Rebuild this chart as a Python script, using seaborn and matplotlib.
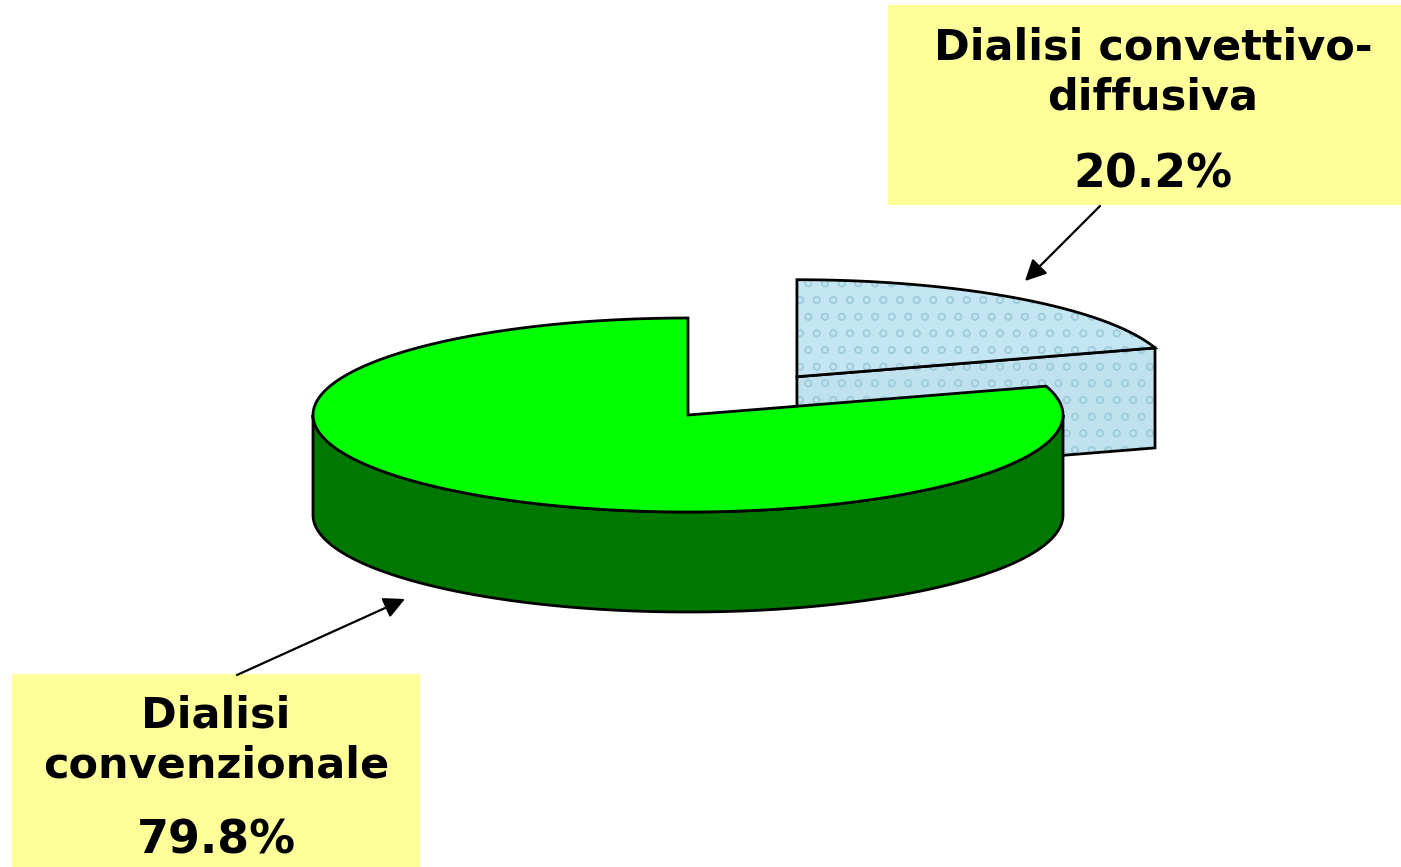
#!/usr/bin/env python
# -*- coding: utf-8 -*-

import numpy as np
import matplotlib.pyplot as plt
import matplotlib.patches as mpatches
import seaborn as sns

sns.set_theme(style="white")
plt.rcParams['font.family'] = ['DejaVu Sans']
plt.rcParams['hatch.linewidth'] = 1.0

# Data
categories = ['Dialisi convenzionale', 'Dialisi convettivo-diffusiva']
label_lines = [['Dialisi', 'convenzionale'], ['Dialisi convettivo-', 'diffusiva']]
shares = [79.8, 20.2]
pct_labels = ['79.8%', '20.2%']
explode = [0.0, 0.49]

# Colours
top_colors = ['#00ff00', '#c4e6f2']
side_colors = ['#007800', '#bfe2ee']
hatch_colors = [None, '#9fcddd']
box_color = '#ffff99'

# Pie geometry (pixels, y goes down)
CX, CY = 688, 415
RX, RY = 375, 97
DEPTH = 100
START = 90


def rim(cx, cy, t0, t1, n=240):
    """Points on the top rim ellipse between two angles (degrees)."""
    t = np.radians(np.linspace(t0, t1, n))
    return cx + RX * np.cos(t), cy - RY * np.sin(t)


def add_poly(ax, xs, ys, face, hatch_col=None, lw=2.0, z=1):
    """Filled polygon with black outline, optional hatch texture."""
    pts = np.column_stack([xs, ys])
    if hatch_col:
        ax.add_patch(mpatches.Polygon(pts, closed=True, facecolor=face,
                                      edgecolor=hatch_col, lw=0, hatch='o', zorder=z))
        ax.add_patch(mpatches.Polygon(pts, closed=True, fill=False,
                                      edgecolor='black', lw=lw, zorder=z))
    else:
        ax.add_patch(mpatches.Polygon(pts, closed=True, facecolor=face,
                                      edgecolor='black', lw=lw, zorder=z))


def draw_slice(ax, t0, t1, e, idx, z):
    """Draws one 3D slice: visible cut face, front wall and top face."""
    mid = np.radians((t0 + t1) / 2)
    cx = CX + e * RX * np.cos(mid)
    cy = CY - e * RY * np.sin(mid)
    hc = hatch_colors[idx]

    # radial cut faces facing the viewer
    for ang, sgn in ((t0, -90), (t1, 90)):
        if np.sin(np.radians(ang + sgn)) < -1e-6:
            px, py = rim(cx, cy, ang, ang, 1)
            xs = [cx, px[0], px[0], cx]
            ys = [cy, py[0], py[0] + DEPTH, cy + DEPTH]
            add_poly(ax, xs, ys, side_colors[idx], hc, z=z)

    # outer wall, front half only
    for k in (0, 360):
        lo, hi = max(t0, 180 + k), min(t1, 360 + k)
        if lo < hi:
            tx, ty = rim(cx, cy, lo, hi)
            xs = np.concatenate([tx, tx[::-1]])
            ys = np.concatenate([ty, ty[::-1] + DEPTH])
            add_poly(ax, xs, ys, side_colors[idx], hc, z=z)

    # top face
    tx, ty = rim(cx, cy, t0, t1)
    add_poly(ax, np.concatenate([[cx], tx]), np.concatenate([[cy], ty]),
             top_colors[idx], hc, z=z + 0.5)


fig = plt.figure(figsize=(14.01, 8.67), dpi=100)
ax = fig.add_axes([0, 0, 1, 1])
ax.set_xlim(0, 1401)
ax.set_ylim(867, 0)
ax.axis('off')

# slice angles
total = sum(shares)
angles = []
start = START
for s in shares:
    sweep = s / total * 360
    angles.append((start, start + sweep))
    start += sweep

# back slices first
order = sorted(range(len(shares)),
               key=lambda i: -explode[i] * np.sin(np.radians(sum(angles[i]) / 2)))
for z, i in enumerate(order):
    draw_slice(ax, angles[i][0], angles[i][1], explode[i], i, z=2 * z + 1)

# Label boxes
boxes = [(12, 674, 408, 200), (888, 5, 513, 200)]
text_x = [216, 1153]
first_base = [727, 60]
pct_base = [853, 187]
arrows = [((237, 675), (405, 599)), ((1100, 206), (1025, 281))]

for i in range(len(categories)):
    bx, by, bw, bh = boxes[i]
    ax.add_patch(mpatches.Rectangle((bx, by), bw, bh, facecolor=box_color,
                                    edgecolor='none', zorder=10))
    for j, line in enumerate(label_lines[i]):
        ax.text(text_x[i], first_base[i] + 50 * j, line, ha='center', va='baseline',
                fontsize=31, fontweight='bold', color='black', zorder=11)
    ax.text(text_x[i], pct_base[i], pct_labels[i], ha='center', va='baseline',
            fontsize=33, fontweight='bold', color='black', zorder=11)
    (x0, y0), (x1, y1) = arrows[i]
    ax.annotate('', xy=(x1, y1), xytext=(x0, y0),
                arrowprops=dict(arrowstyle='-|>', color='black', lw=1.6,
                                mutation_scale=32, shrinkA=0, shrinkB=0),
                zorder=12)

fig.savefig('out.png', dpi=100)
